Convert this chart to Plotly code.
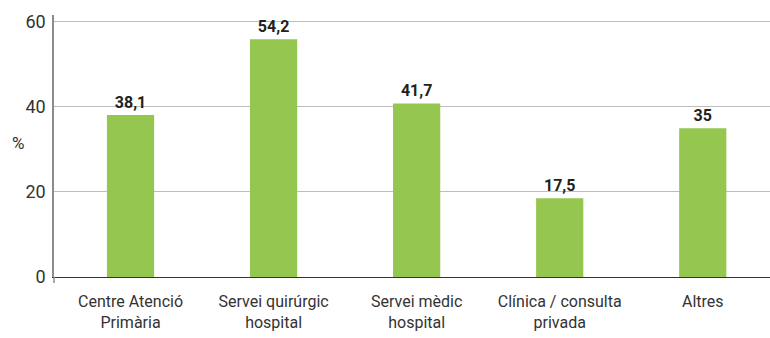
import plotly.graph_objects as go

categories = ["Centre Atenció<br>Primària", "Servei quirúrgic<br>hospital",
              "Servei mèdic<br>hospital", "Clínica / consulta<br>privada", "Altres"]
bar_values = [38.1, 55.9, 40.8, 18.5, 35.0]
value_labels = ["38,1", "54,2", "41,7", "17,5", "35"]
y_ticks = [0, 20, 40, 60]

FONT = "Roboto"

fig = go.Figure()
fig.add_trace(go.Bar(
    x=list(range(len(categories))), y=bar_values,
    marker=dict(color="#95c64f", line=dict(width=0)),
    text=value_labels, textposition="outside", cliponaxis=False,
    textfont=dict(family=FONT, size=16, color="#231f20", weight="bold"),
    width=0.33,
))

fig.update_layout(
    width=770, height=338,
    margin=dict(l=54, r=0, t=15, b=61),
    plot_bgcolor="white", paper_bgcolor="white",
    showlegend=False,
    font=dict(family=FONT, size=16, color="#333333"),
    xaxis=dict(
        tickmode="array", tickvals=list(range(len(categories))), ticktext=categories,
        range=[-0.535, 4.47], showgrid=False, showline=True, linecolor="#333333",
        linewidth=1.2, ticks="", tickfont=dict(size=16, color="#333333"),
        zeroline=False, ticklabelstandoff=10,
    ),
    yaxis=dict(
        range=[0, 61.6], tickvals=y_ticks, showgrid=True, gridcolor="#bdbdbd",
        gridwidth=1.2, showline=True, linecolor="#8c8c8c", linewidth=1.5,
        ticks="", tickfont=dict(size=18, color="#333333"), zeroline=False,
        ticklabelstandoff=3,
    ),
    annotations=[dict(text="%", x=0, xref="paper", xanchor="center", xshift=-36,
                      y=31.5, yref="y", showarrow=False,
                      font=dict(size=17, color="#333333"))],
    shapes=[dict(type="line", xref="paper", yref="paper", x0=0, x1=0,
                 y0=0, y1=-0.023, line=dict(color="#8c8c8c", width=1.5))],
)
fig.write_html("out.html")
